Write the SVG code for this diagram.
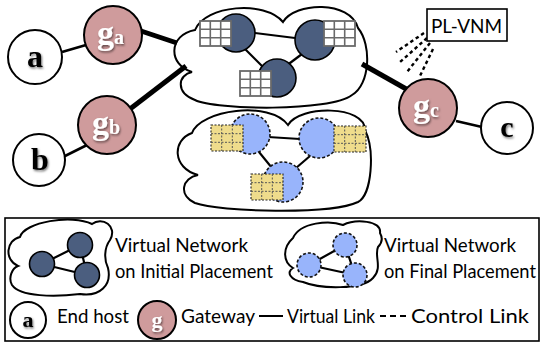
<svg xmlns="http://www.w3.org/2000/svg" xmlns:xlink="http://www.w3.org/1999/xlink" width="543" height="347" viewBox="0 0 543 347">
<style>
.cloud{fill:#fff;stroke:#000;stroke-width:2}
.host{fill:#fff;stroke:#000;stroke-width:2}
.gw{fill:#cf9b9c;stroke:#000;stroke-width:2}
.vmi{fill:#4b5e7f;stroke:#000;stroke-width:1.6}
.vmf{fill:#98b4fb;stroke:#111;stroke-width:1.6;stroke-dasharray:3 2}
.thin{stroke:#000;stroke-width:2.6;fill:none}
.thick{stroke:#000;stroke-width:5;fill:none}
.edge{stroke:#000;stroke-width:2.2;fill:none}
.ctrl{stroke:#000;stroke-width:2.4;stroke-dasharray:3.5 3;fill:none}
.hl{font-family:"Liberation Serif","DejaVu Serif",serif;font-weight:bold;fill:#000;text-anchor:middle}
.gl{font-family:"Liberation Serif","DejaVu Serif",serif;font-weight:bold;fill:#fff}
.lbl{font-family:Lato,"Open Sans","Liberation Sans",sans-serif;font-size:19px;fill:#000}
</style>
<defs>
<filter id="sh" x="-30%" y="-30%" width="160%" height="160%">
<feDropShadow dx="1" dy="1.5" stdDeviation="1.2" flood-color="#000" flood-opacity="0.55"/>
</filter>
<g id="wgrid">
<rect x="0" y="0" width="31" height="25" fill="#fff" stroke="#6a6a6a" stroke-width="1.8"/>
<path d="M10.3 0V25M20.7 0V25M0 8.3H31M0 16.7H31" stroke="#6a6a6a" stroke-width="1.6"/>
</g>
<g id="ygrid">
<rect x="0" y="0" width="32" height="26" fill="#efdc8c" stroke="#222" stroke-width="1.1" stroke-dasharray="2 1.5"/>
<path d="M10.7 0V26M21.3 0V26M0 8.7H32M0 17.3H32" stroke="#555" stroke-width="1" stroke-dasharray="2 1.5"/>
</g>
</defs>

<g id="cloud-initial">
<path class="cloud" d="M195,30 C205,5 265,0 283,22 C295,2 350,0 358,28 C372,45 370,85 352,95 C330,112 215,110 195,100 C175,92 178,75 192,72 C168,65 168,35 195,30 Z"/>
</g>
<g id="cloud-final">
<path class="cloud" d="M192,133 C200,110 270,100 288,125 C300,105 365,105 365,130 C375,150 372,195 358,202 C330,215 220,212 195,203 C178,195 182,178 198,175 C172,168 172,140 192,133 Z"/>
</g>

<g id="connectors">
<line class="thin" x1="62" y1="52" x2="86" y2="45"/>
<line class="thin" x1="63" y1="157" x2="87" y2="145"/>
<line class="thick" x1="141" y1="31" x2="177" y2="43"/>
<line class="thick" x1="130" y1="109" x2="186" y2="66"/>
<line class="thick" x1="362" y1="64" x2="408" y2="90"/>
<line class="thin" x1="456" y1="121" x2="482" y2="127"/>
<line class="edge" x1="255" y1="33" x2="295" y2="38"/>
<line class="edge" x1="244" y1="48" x2="264" y2="68"/>
<line class="edge" x1="302" y1="54" x2="286" y2="66"/>
<line class="edge" x1="268" y1="137" x2="300" y2="139"/>
<line class="edge" x1="259" y1="152" x2="272" y2="168"/>
<line class="edge" x1="310" y1="156" x2="296" y2="168"/>
<line class="ctrl" x1="424" y1="33" x2="396" y2="52"/>
<line class="ctrl" x1="427" y1="38" x2="399" y2="63"/>
<line class="ctrl" x1="430" y1="43" x2="407" y2="72"/>
<line class="ctrl" x1="433" y1="49" x2="419" y2="78"/>
</g>

<g id="vm-i1"><circle class="vmi" cx="236" cy="33" r="19"/><use xlink:href="#wgrid" x="200" y="21"/></g>
<g id="vm-i2"><circle class="vmi" cx="315" cy="40" r="20"/><use xlink:href="#wgrid" x="324" y="21"/></g>
<g id="vm-i3"><circle class="vmi" cx="277" cy="78" r="19"/><use xlink:href="#wgrid" x="240" y="71"/></g>

<g id="vm-f1"><circle class="vmf" cx="250" cy="134" r="20"/><use xlink:href="#ygrid" x="211" y="125"/></g>
<g id="vm-f2"><circle class="vmf" cx="319" cy="138" r="20"/><use xlink:href="#ygrid" x="334" y="126"/></g>
<g id="vm-f3"><circle class="vmf" cx="283" cy="182" r="20"/><use xlink:href="#ygrid" x="251" y="174"/></g>

<g id="host-a"><circle class="host" cx="35" cy="57" r="27"/><text class="hl" x="35" y="67" font-size="32" filter="url(#sh)">a</text></g>
<g id="host-b"><circle class="host" cx="39" cy="160" r="26"/><text class="hl" x="40" y="170" font-size="32" filter="url(#sh)">b</text></g>
<g id="host-c"><circle class="host" cx="507" cy="128" r="26"/><text class="hl" x="507" y="137" font-size="30" filter="url(#sh)">c</text></g>

<g id="gw-a"><circle class="gw" cx="113" cy="35" r="29"/><text class="gl" x="97" y="44" font-size="34" filter="url(#sh)">g<tspan font-size="20">a</tspan></text></g>
<g id="gw-b"><circle class="gw" cx="107" cy="125" r="29"/><text class="gl" x="92" y="134" font-size="34" filter="url(#sh)">g<tspan font-size="20">b</tspan></text></g>
<g id="gw-c"><circle class="gw" cx="428" cy="108" r="29"/><text class="gl" x="413" y="117" font-size="34" filter="url(#sh)">g<tspan font-size="20">c</tspan></text></g>

<g id="pl-vnm">
<rect x="427" y="9" width="80" height="32" fill="#fff" stroke="#000" stroke-width="1.6"/>
<text class="lbl" x="431" y="33" font-size="21" textLength="71" lengthAdjust="spacingAndGlyphs">PL-VNM</text>
</g>

<g id="legend">
<rect x="5" y="218" width="534" height="123" fill="none" stroke="#000" stroke-width="1.6"/>
<path class="cloud" d="M20,237 C24,222 72,214 92,224 C102,216 118,226 110,240 C104,248 104,260 108,268 C112,285 100,297 80,294 C55,297 20,297 12,285 C8,278 12,268 18,266 C4,260 6,240 20,237 Z" stroke-width="1.6"/>
<path class="edge" d="M42,264L80,245M42,264L87,275M80,245L87,275"/>
<circle class="vmi" cx="80" cy="245" r="12.5"/>
<circle class="vmi" cx="42" cy="264" r="12.5"/>
<circle class="vmi" cx="87" cy="275" r="12.5"/>
<text class="lbl" x="115" y="252" textLength="133" lengthAdjust="spacingAndGlyphs">Virtual Network</text>
<text class="lbl" x="115" y="278" textLength="158" lengthAdjust="spacingAndGlyphs">on Initial Placement</text>

<path class="cloud" d="M293,238 C300,222 330,220 343,225 C355,219 382,220 380,233 C384,240 380,245 378,247 C374,256 383,268 373,278 C362,290 320,289 303,282 C290,280 286,272 293,268 C283,262 282,248 293,238 Z" stroke-width="1.6"/>
<path class="edge" d="M309,265L345,245M309,265L355,275M345,245L355,275"/>
<circle class="vmf" cx="345" cy="245" r="12"/>
<circle class="vmf" cx="309" cy="265" r="12"/>
<circle class="vmf" cx="355" cy="275" r="12"/>
<text class="lbl" x="384" y="252" textLength="132" lengthAdjust="spacingAndGlyphs">Virtual Network</text>
<text class="lbl" x="384" y="278" font-size="18.5" textLength="152" lengthAdjust="spacingAndGlyphs">on Final Placement</text>

<circle class="host" cx="28" cy="320" r="18" stroke-width="1.6"/>
<text class="hl" x="28" y="327" font-size="22" filter="url(#sh)">a</text>
<text class="lbl" x="57" y="323" textLength="72" lengthAdjust="spacingAndGlyphs">End host</text>
<circle class="gw" cx="157" cy="320" r="19" stroke-width="1.6"/>
<text class="gl" x="157" y="327" font-size="22" text-anchor="middle" filter="url(#sh)">g</text>
<text class="lbl" x="181" y="323" textLength="74" lengthAdjust="spacingAndGlyphs">Gateway</text>
<line x1="259" y1="316" x2="283" y2="316" stroke="#000" stroke-width="2"/>
<text class="lbl" x="287" y="323" textLength="88" lengthAdjust="spacingAndGlyphs">Virtual Link</text>
<line x1="380" y1="316" x2="406" y2="316" stroke="#000" stroke-width="2" stroke-dasharray="6 4"/>
<text class="lbl" x="411" y="323" textLength="118" lengthAdjust="spacingAndGlyphs">Control Link</text>
</g>
</svg>
